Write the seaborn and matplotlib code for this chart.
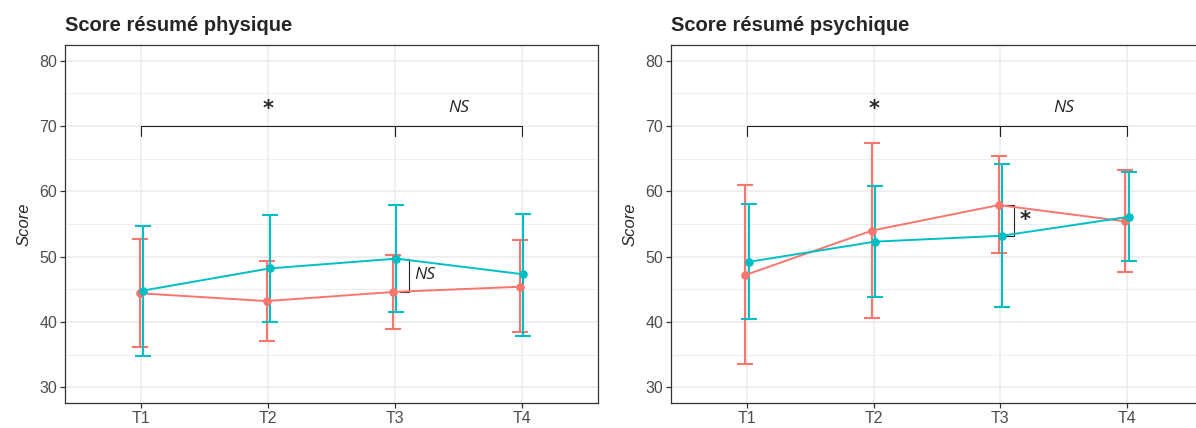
import pandas as pd
import matplotlib
matplotlib.use('Agg')
import matplotlib.pyplot as plt
import seaborn as sns

# Temps de mesure
temps = ['T1', 'T2', 'T3', 'T4']
groupes = ['Groupe 1', 'Groupe 2']
couleurs = {'Groupe 1': '#F8766D', 'Groupe 2': '#00BFC4'}

# Score résumé physique (moyenne, borne basse, borne haute)
phys_g1 = [44.4, 43.2, 44.6, 45.4]
phys_g1_bas = [36.2, 37.1, 38.9, 38.4]
phys_g1_haut = [52.7, 49.4, 50.3, 52.5]
phys_g2 = [44.8, 48.2, 49.7, 47.3]
phys_g2_bas = [34.8, 40.0, 41.5, 37.9]
phys_g2_haut = [54.7, 56.4, 57.9, 56.6]

# Score résumé psychique
psy_g1 = [47.2, 54.0, 57.9, 55.4]
psy_g1_bas = [33.5, 40.6, 50.6, 47.6]
psy_g1_haut = [61.0, 67.4, 65.4, 63.2]
psy_g2 = [49.2, 52.3, 53.2, 56.1]
psy_g2_bas = [40.5, 43.9, 42.3, 49.3]
psy_g2_haut = [58.0, 60.8, 64.2, 62.9]

# Tests : T1 vs T3, T3 vs T4, et entre groupes à T3
phys_tests = ['*', 'NS', 'NS']
psy_tests = ['*', 'NS', '*']

sns.set_theme(style='white')
plt.rcParams['font.family'] = ['Liberation Sans', 'DejaVu Sans']


def make_df(g1, g1_bas, g1_haut, g2, g2_bas, g2_haut):
    rows = []
    for grp, vals, bas, haut, dx in [('Groupe 1', g1, g1_bas, g1_haut, -0.012),
                                     ('Groupe 2', g2, g2_bas, g2_haut, 0.012)]:
        for i, t in enumerate(temps):
            rows.append({'temps': t, 'x': i + 1 + dx, 'groupe': grp,
                         'score': vals[i], 'bas': bas[i], 'haut': haut[i]})
    return pd.DataFrame(rows)


def label_style(txt):
    if txt == '*':
        return dict(fontsize=15, fontweight='bold', family=['DejaVu Sans'])
    return dict(fontsize=12.5, style='italic', family=['Open Sans', 'DejaVu Sans'])


def draw_panel(ax, df, title, tests):
    # barres d'erreur
    for grp in groupes:
        d = df[df['groupe'] == grp]
        ax.errorbar(d['x'], d['score'], yerr=[d['score'] - d['bas'], d['haut'] - d['score']],
                    fmt='none', ecolor=couleurs[grp], elinewidth=1.5, capsize=5.5,
                    capthick=1.5, zorder=2)
    sns.lineplot(data=df, x='x', y='score', hue='groupe', palette=couleurs, marker='o',
                 markersize=6.2, markeredgewidth=0, linewidth=1.4, legend=False,
                 ax=ax, zorder=3)

    # crochets de comparaison
    ax.plot([1, 1, 3, 3], [68.4, 70, 70, 68.4], color='#222222', lw=0.8)
    ax.plot([3, 3, 4, 4], [68.4, 70, 70, 68.4], color='#222222', lw=0.8)
    ax.text(2, 72.6, tests[0], ha='center', va='center', **label_style(tests[0]))
    ax.text(3.5, 72.7, tests[1], ha='center', va='center', **label_style(tests[1]))

    y1 = df[(df['groupe'] == 'Groupe 1') & (df['temps'] == 'T3')]['score'].iloc[0]
    y2 = df[(df['groupe'] == 'Groupe 2') & (df['temps'] == 'T3')]['score'].iloc[0]
    ax.plot([3.04, 3.11, 3.11, 3.04], [y2, y2, y1, y1], color='#222222', lw=0.8)
    ax.text(3.15, (y1 + y2) / 2, tests[2], ha='left', va='center', **label_style(tests[2]))

    ax.set_xlim(0.4, 4.6)
    ax.set_ylim(27.6, 82.4)
    ax.set_xticks([1, 2, 3, 4], temps)
    ax.set_yticks([30, 40, 50, 60, 70, 80])
    ax.set_yticks([35, 45, 55, 65, 75], minor=True)
    ax.grid(which='major', color='#EBEBEB', lw=1.1)
    ax.grid(which='minor', axis='y', color='#EBEBEB', lw=0.6)
    ax.set_axisbelow(True)
    ax.tick_params(which='major', left=True, bottom=True, length=3.5, width=0.9,
                   color='#333333', labelcolor='#4D4D4D', labelsize=11.5, pad=2)
    ax.tick_params(which='minor', left=False, length=0)
    for s in ax.spines.values():
        s.set_color('#333333')
        s.set_linewidth(0.9)
    ax.set_xlabel('')
    ax.set_ylabel('Score', style='italic', fontsize=12, labelpad=6)
    ax.set_title(title, loc='left', fontweight='bold', fontsize=14.5, pad=10)


fig = plt.figure(figsize=(11.96, 4.28), dpi=100)
bas_y = 1 - 403 / 428
haut_y = (403 - 45) / 428
ax1 = fig.add_axes([65 / 1196, bas_y, (598 - 65) / 1196, haut_y])
ax2 = fig.add_axes([671 / 1196, bas_y, (1203 - 671) / 1196, haut_y])

draw_panel(ax1, make_df(phys_g1, phys_g1_bas, phys_g1_haut, phys_g2, phys_g2_bas, phys_g2_haut),
           'Score résumé physique', phys_tests)
draw_panel(ax2, make_df(psy_g1, psy_g1_bas, psy_g1_haut, psy_g2, psy_g2_bas, psy_g2_haut),
           'Score résumé psychique', psy_tests)
# le panneau de droite est coupé au bord de l'image
ax2.spines['right'].set_visible(False)

fig.savefig('out.png', dpi=100)
